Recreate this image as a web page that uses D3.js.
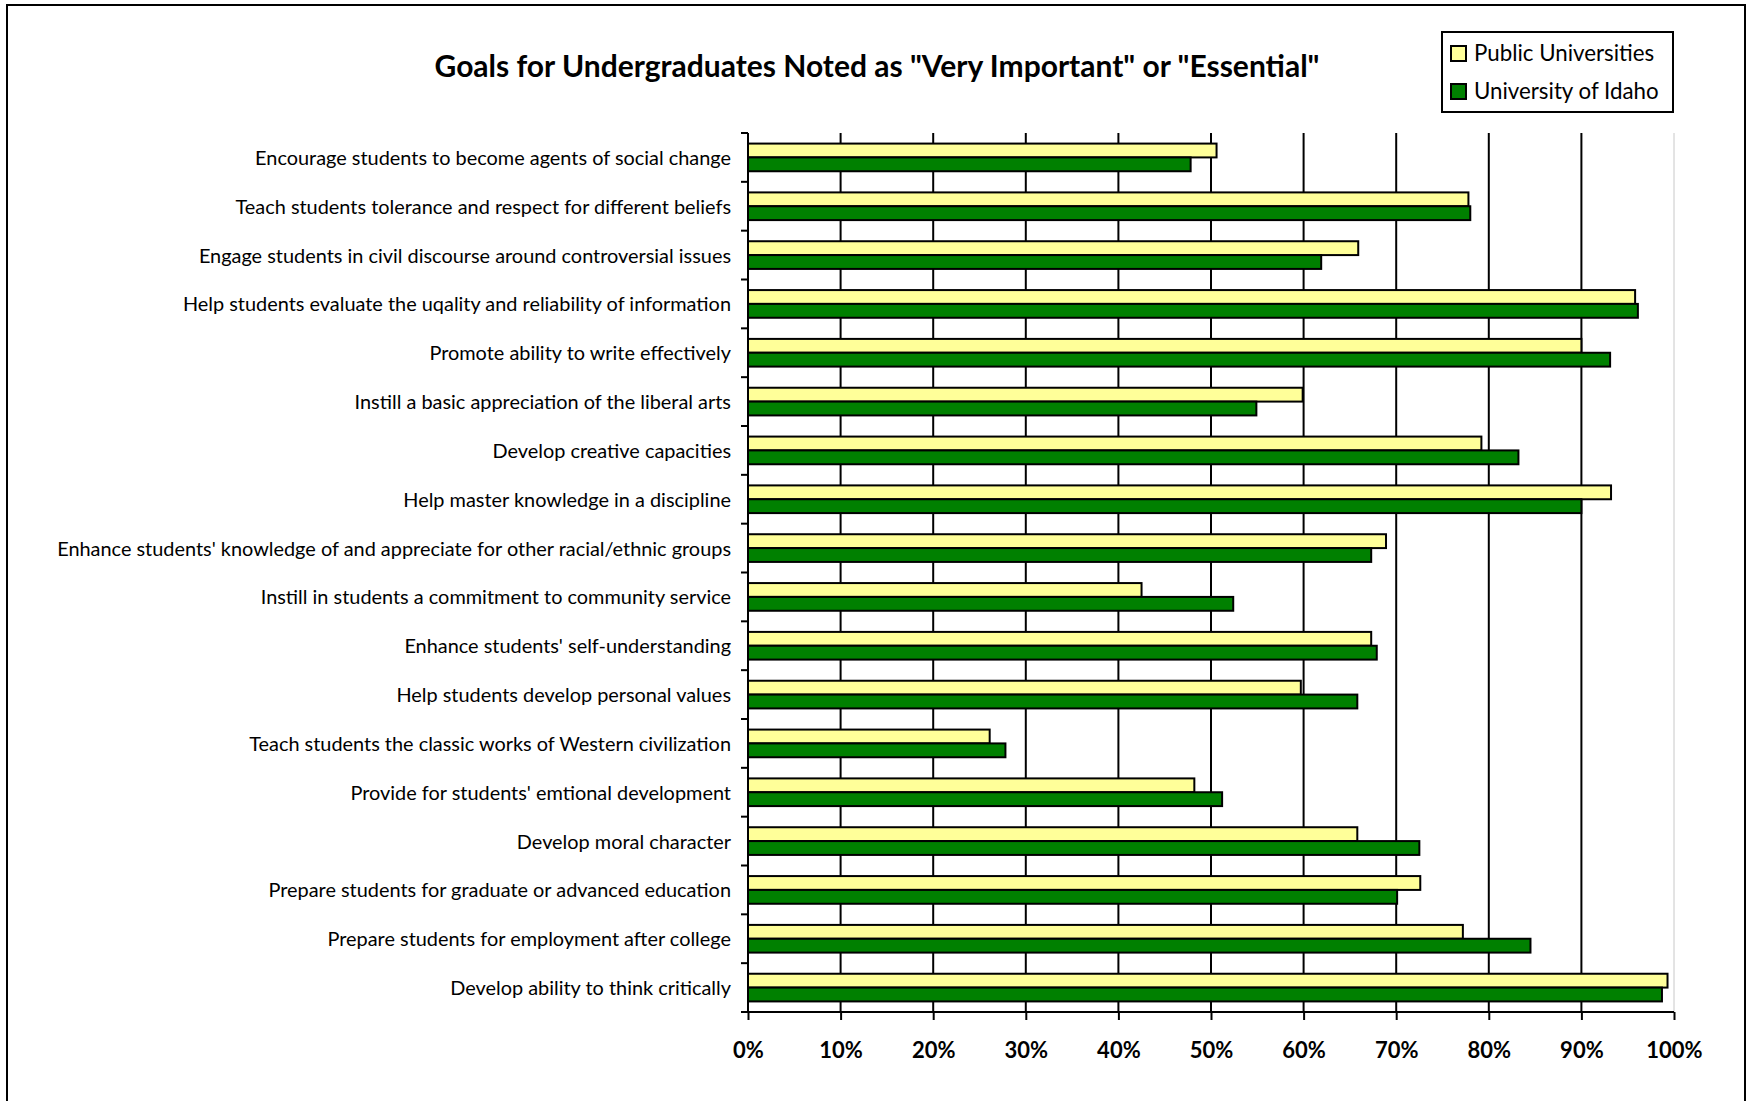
<!DOCTYPE html>
<html>
<head>
<meta charset="utf-8">
<script src="https://cdn.jsdelivr.net/npm/d3@7"></script>
<style>
  html, body { margin: 0; padding: 0; background: #fff; }
  svg { display: block; }
  text { font-family: Lato, "Open Sans", sans-serif; fill: #000; }
</style>
</head>
<body>
<svg id="chart" width="1747" height="1101"></svg>
<script>
const categories = [
  "Encourage students to become agents of social change",
  "Teach students tolerance and respect for different beliefs",
  "Engage students in civil discourse around controversial issues",
  "Help students evaluate the uqality and reliability of information",
  "Promote ability to write effectively",
  "Instill a basic appreciation of the liberal arts",
  "Develop creative capacities",
  "Help master knowledge in a discipline",
  "Enhance students' knowledge of and appreciate for other racial/ethnic groups",
  "Instill in students a commitment to community service",
  "Enhance students' self-understanding",
  "Help students develop personal values",
  "Teach students the classic works of Western civilization",
  "Provide for students' emtional development",
  "Develop moral character",
  "Prepare students for graduate or advanced education",
  "Prepare students for employment after college",
  "Develop ability to think critically"
];
const publicUniversities = [50.6, 77.8, 65.9, 95.8, 90.0, 59.9, 79.2, 93.2, 68.9, 42.5, 67.3, 59.7, 26.1, 48.2, 65.8, 72.6, 77.2, 99.3];
const universityOfIdaho = [47.8, 78.0, 61.9, 96.1, 93.1, 54.9, 83.2, 90.0, 67.3, 52.4, 67.9, 65.8, 27.8, 51.2, 72.5, 70.1, 84.5, 98.7];
const seriesNames = ["Public Universities", "University of Idaho"];
const seriesColors = ["#FFFF99", "#008000"];
const xTicks = [0, 10, 20, 30, 40, 50, 60, 70, 80, 90, 100];
const chartTitle = 'Goals for Undergraduates Noted as "Very Important" or "Essential"';

const svg = d3.select("#chart");
const pLeft = 748, pRight = 1674, pTop = 133, pBottom = 1012;

// outer frame
svg.append("rect").attr("x", 7).attr("y", 5).attr("width", 1738).attr("height", 1120)
  .attr("fill", "none").attr("stroke", "#000").attr("stroke-width", 2);

const x = d3.scaleLinear().domain([0, 100]).range([pLeft, pRight]);
const y = d3.scaleBand().domain(categories).range([pTop, pBottom]).padding(0);
const ySub = d3.scaleBand().domain(seriesNames).range([0, y.bandwidth()]).paddingInner(0).paddingOuter(0.764);

// right plot-area border (faint)
svg.append("line").attr("x1", x(100)).attr("x2", x(100)).attr("y1", pTop).attr("y2", pBottom)
  .attr("stroke", "#c8c8c8").attr("stroke-width", 1);

// gridlines
svg.append("g").selectAll("line").data(xTicks.filter(d => d > 0 && d < 100)).join("line")
  .attr("x1", d => x(d)).attr("x2", d => x(d)).attr("y1", pTop).attr("y2", pBottom)
  .attr("stroke", "#000").attr("stroke-width", 2);

// bars
const rows = categories.map((c, i) => ({c, vals: [publicUniversities[i], universityOfIdaho[i]]}));
const g = svg.append("g").selectAll("g").data(rows).join("g")
  .attr("transform", d => `translate(0,${y(d.c)})`);
g.selectAll("rect").data(d => d.vals.map((v, j) => ({v, s: seriesNames[j], col: seriesColors[j]}))).join("rect")
  .attr("x", x(0)).attr("y", d => ySub(d.s)).attr("width", d => x(d.v) - x(0)).attr("height", ySub.bandwidth())
  .attr("fill", d => d.col).attr("stroke", "#000").attr("stroke-width", 2);

// y axis
const yAxis = svg.append("g").attr("transform", `translate(${pLeft},0)`)
  .call(d3.axisLeft(y).tickSize(0).tickPadding(17));
yAxis.select(".domain").remove();
yAxis.selectAll("text").attr("font-size", 19.9).attr("dy", "0.38em");
svg.append("line").attr("x1", pLeft).attr("x2", pLeft).attr("y1", pTop).attr("y2", pBottom)
  .attr("stroke", "#000").attr("stroke-width", 2);
const bounds = categories.map(c => y(c)).concat([y.range()[1]]);
svg.append("g").selectAll("line").data(bounds).join("line")
  .attr("x1", pLeft - 7).attr("x2", pLeft).attr("y1", d => d).attr("y2", d => d)
  .attr("stroke", "#000").attr("stroke-width", 2);

// x axis
const xAxis = svg.append("g").attr("transform", `translate(0,${pBottom})`)
  .call(d3.axisBottom(x).tickValues(xTicks).tickFormat(d => d + "%").tickSize(8).tickSizeOuter(0).tickPadding(22));
xAxis.select(".domain").remove();
xAxis.selectAll(".tick line").attr("stroke", "#000").attr("stroke-width", 2);
xAxis.selectAll("text").attr("font-size", 22).attr("font-weight", "bold");
svg.append("line").attr("x1", pLeft - 7).attr("x2", pRight).attr("y1", pBottom).attr("y2", pBottom)
  .attr("stroke", "#000").attr("stroke-width", 2);

// title
svg.append("text").attr("x", 877).attr("y", 77).attr("text-anchor", "middle")
  .attr("font-size", 30).attr("font-weight", "bold").text(chartTitle);

// legend
const lg = svg.append("g");
lg.append("rect").attr("x", 1442).attr("y", 32).attr("width", 231).attr("height", 80)
  .attr("fill", "#fff").attr("stroke", "#000").attr("stroke-width", 2);
const li = lg.selectAll("g.item").data(seriesNames).join("g").attr("class", "item")
  .attr("transform", (d, i) => `translate(1451,${46 + i * 38})`);
li.append("rect").attr("width", 15).attr("height", 15)
  .attr("fill", (d, i) => seriesColors[i]).attr("stroke", "#000").attr("stroke-width", 2);
li.append("text").attr("x", 23).attr("y", 15).attr("font-size", 22.3).text(d => d);
</script>
</body>
</html>
